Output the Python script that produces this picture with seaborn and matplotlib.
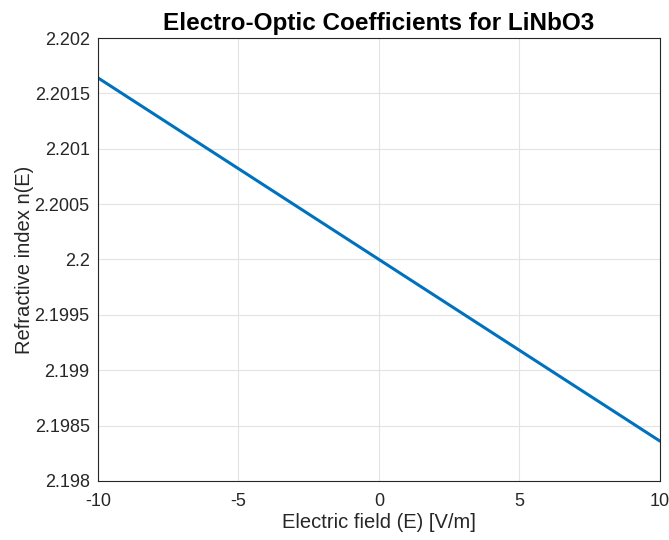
import matplotlib
matplotlib.use("Agg")
import matplotlib.pyplot as plt
import seaborn as sns
import pandas as pd

field = [-10, 0, 10]
index_n = [2.20164, 2.2, 2.19836]
xticks = [-10, -5, 0, 5, 10]
yticks = [2.198, 2.1985, 2.199, 2.1995, 2.2, 2.2005, 2.201, 2.2015, 2.202]
ytick_labels = ["2.198", "2.1985", "2.199", "2.1995", "2.2", "2.2005", "2.201", "2.2015", "2.202"]

sns.set_style("white")
plt.rcParams['font.family'] = ['Liberation Sans', 'DejaVu Sans']

df = pd.DataFrame({"E": field, "n": index_n})
fig = plt.figure(figsize=(6.69, 5.40), dpi=100)
ax = fig.add_axes([0.1465, 0.1093, 0.84, 0.8203])
sns.lineplot(data=df, x="E", y="n", ax=ax, color="#0072BD", linewidth=2.2)
ax.set_xlim(-10, 10)
ax.set_ylim(2.198, 2.202)
ax.set_xticks(xticks)
ax.set_xticklabels([str(t) for t in xticks])
ax.set_yticks(yticks)
ax.set_yticklabels(ytick_labels)
ax.grid(True, color="#e3e3e3", linewidth=0.8)
ax.tick_params(direction="in", length=5, labelsize=13, colors="#262626", width=0.8,
               top=False, right=False)
ax.tick_params(axis="x", pad=9)
ax.tick_params(axis="y", pad=6)
for s in ax.spines.values():
    s.set_color("#262626")
    s.set_linewidth(0.8)
    s.set_visible(True)
ax.set_xlabel("Electric field (E) [V/m]", fontsize=14.5, color="#262626", labelpad=2)
ax.set_ylabel("Refractive index n(E)", fontsize=14.5, color="#262626", labelpad=0.5)
ax.set_title("Electro-Optic Coefficients for LiNbO3", fontsize=17.5, fontweight="bold",
             color="black", pad=6)
fig.savefig("out.png", dpi=100)
